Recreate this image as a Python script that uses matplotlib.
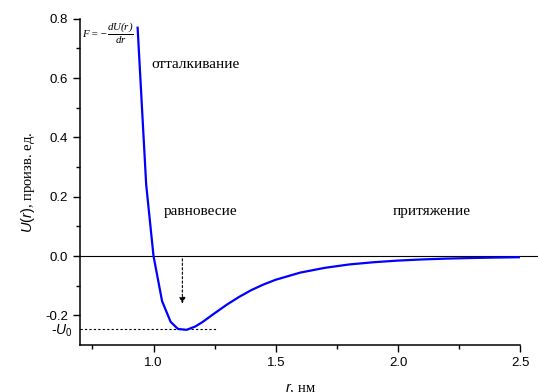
import numpy as np
import matplotlib
matplotlib.use("Agg")
import matplotlib.pyplot as plt

# данные
r = [0.935, 0.97, 1.0, 1.035, 1.07, 1.1, 1.135, 1.17, 1.2, 1.25, 1.3, 1.35,
     1.4, 1.45, 1.5, 1.6, 1.7, 1.8, 1.9, 2.0, 2.1, 2.2, 2.3, 2.4, 2.5]
U = [0.77, 0.241, 0.0, -0.152, -0.222, -0.246, -0.249, -0.238, -0.223,
     -0.193, -0.164, -0.138, -0.115, -0.096, -0.080, -0.056, -0.040, -0.0285,
     -0.021, -0.0154, -0.0115, -0.0087, -0.0067, -0.0052, -0.0041]
U0 = -0.245
yticks = [-0.2, 0.0, 0.2, 0.4, 0.6, 0.8]
xticks = [1.0, 1.5, 2.0, 2.5]

plt.rcParams['font.family'] = 'Liberation Sans'
plt.rcParams['mathtext.fontset'] = 'custom'
plt.rcParams['mathtext.it'] = 'Liberation Sans:italic'
plt.rcParams['mathtext.rm'] = 'Liberation Sans'
plt.rcParams['mathtext.sf'] = 'Liberation Serif:italic'

fig = plt.figure(figsize=(5.38, 3.92), dpi=100)
ax = fig.add_axes([0.149, 0.12, 0.818, 0.832])

ax.plot(r, U, color='#0000ff', lw=1.6, zorder=3)

# нулевая линия
ax.plot([0.7, 2.58], [0, 0], color='black', lw=0.8, clip_on=False, zorder=2)

# уровень -U0 и стрелка
ax.plot([0.7, 1.26], [U0, U0], color='black', lw=0.8, ls=(0, (2, 2)))
ax.annotate('', xy=(1.118, -0.17), xytext=(1.118, 0.0),
            arrowprops=dict(arrowstyle='-|>', color='black', lw=0.8,
                            ls=(0, (2, 2)), mutation_scale=9))

ax.set_xlim(0.7, 2.5)
ax.set_ylim(-0.3, 0.8)
ax.set_xticks(xticks)
ax.set_yticks(yticks)
ax.set_xticks([0.75, 1.25, 1.75, 2.25], minor=True)
ax.set_yticks([-0.1, 0.1, 0.3, 0.5, 0.7], minor=True)
ax.set_xticklabels([f'{v:.1f}' for v in xticks])
ax.set_yticklabels([f'{v:.1f}' for v in yticks])
ax.tick_params(which='major', direction='out', length=5, width=1, labelsize=9.5)
ax.tick_params(which='minor', direction='out', length=3, width=1)
for s in ['top', 'right']:
    ax.spines[s].set_visible(False)
for s in ['left', 'bottom']:
    ax.spines[s].set_linewidth(1.1)

ax.text(-0.018, U0 - 0.008, r'-$\mathit{U}_0$', transform=ax.get_yaxis_transform(),
        ha='right', va='center', fontsize=10)

ax.set_ylabel(r'$\mathit{U(r)}$, произв. ед.', family='Liberation Serif',
              fontsize=10.5, labelpad=6)
ax.set_xlabel(r'$\mathit{r}$, нм', family='Liberation Serif', fontsize=10.5,
              labelpad=9)

ax.text(0.708, 0.752, r'$\mathsf{F = -\dfrac{dU(r)}{dr}}$', fontsize=7.8,
        ha='left', va='center')

serif = dict(family='Liberation Serif', fontsize=11)
ax.text(0.99, 0.645, 'отталкивание', ha='left', va='center', **serif)
ax.text(1.04, 0.15, 'равновесие', ha='left', va='center', **serif)
ax.text(1.98, 0.15, 'притяжение', ha='left', va='center', **serif)

fig.savefig('out.png', dpi=100)
